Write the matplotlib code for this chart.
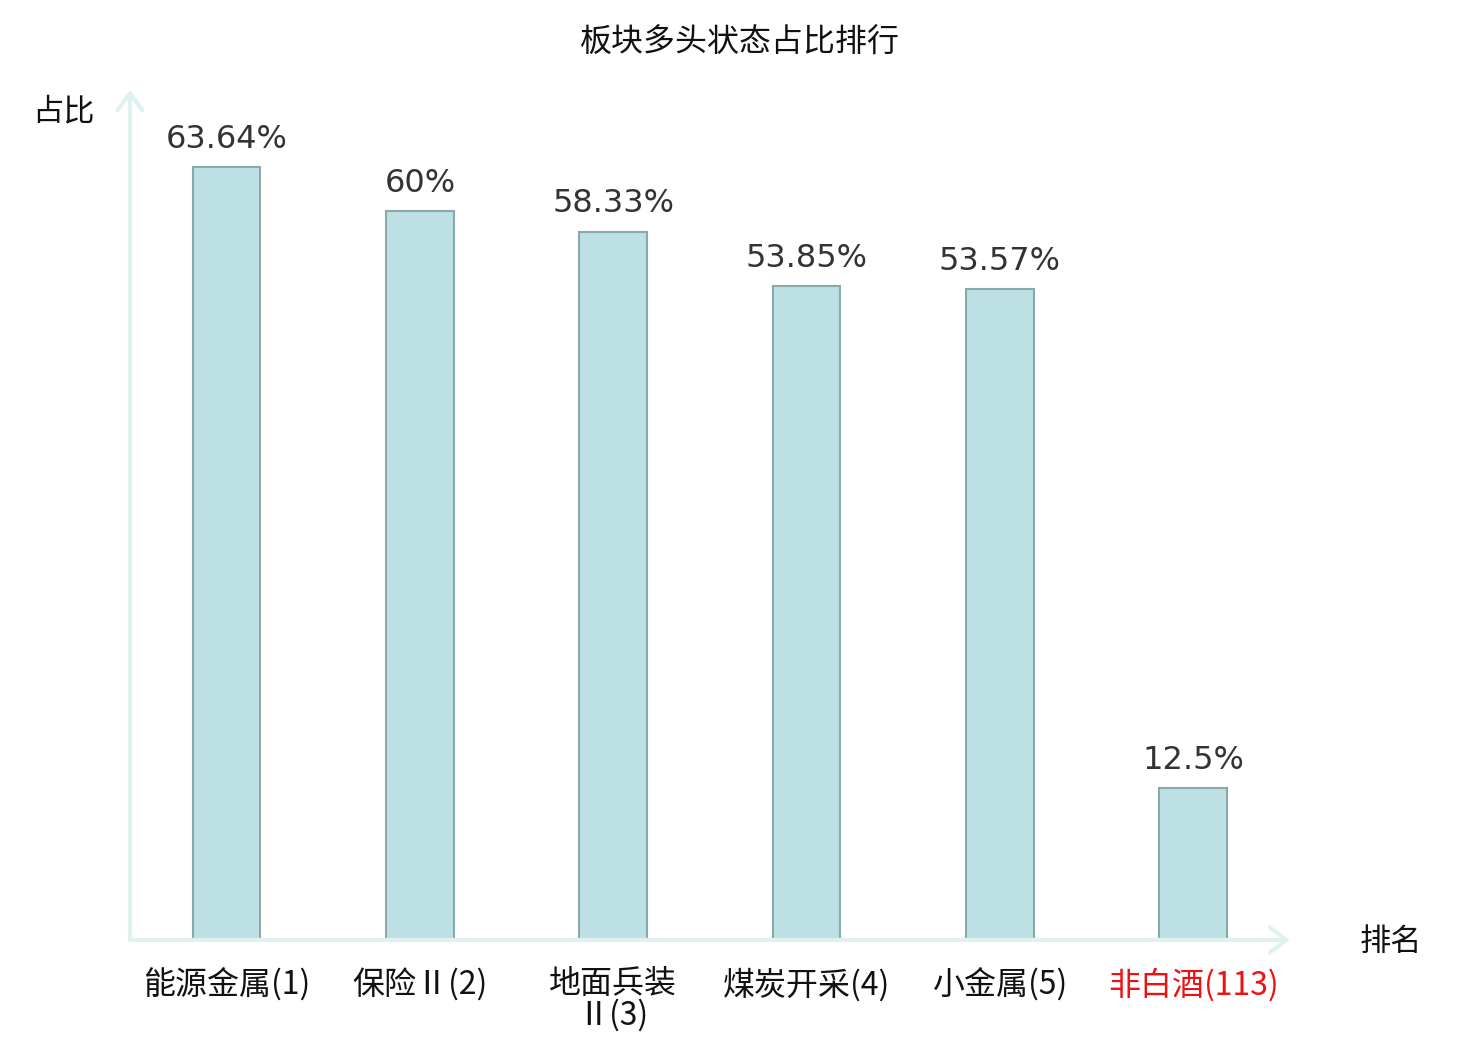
import matplotlib
matplotlib.use('Agg')
import matplotlib.pyplot as plt

plt.rcParams['font.family'] = ['Noto Sans CJK SC', 'DejaVu Sans']

# 数据
categories = ['能源金属(1)', '保险Ⅱ(2)', '地面兵装\nⅡ(3)', '煤炭开采(4)', '小金属(5)', '非白酒(113)']
values = [63.64, 60, 58.33, 53.85, 53.57, 12.5]
value_labels = ['63.64%', '60%', '58.33%', '53.85%', '53.57%', '12.5%']
highlight = [False, False, False, False, False, True]

fig = plt.figure(figsize=(14.8, 10.4), dpi=100)
ax = fig.add_axes([0.0878, 0.0962, 0.7838, 0.8173])

x = list(range(len(categories)))
ax.bar(x, values, width=0.35, color='#bce0e3', edgecolor='#8aa9aa', linewidth=1.5)

for xi, v, lab in zip(x, values, value_labels):
    ax.annotate(lab, (xi, v), textcoords='offset points', xytext=(0, 9),
                ha='center', va='bottom', fontsize=23, color='#333333',
                family=['DejaVu Sans'])

ax.set_xlim(-0.5, 5.5)
ax.set_ylim(0, 70)
for s in ax.spines.values():
    s.set_visible(False)
ax.set_yticks([])
ax.set_xticks(x)
ax.set_xticklabels(categories, fontsize=23, linespacing=0.95)
ax.tick_params(axis='x', length=0, pad=20)
for t, h in zip(ax.get_xticklabels(), highlight):
    t.set_color('#ee1111' if h else '#111111')

# 坐标轴箭头
axis_color = '#dff2ef'
arrow = dict(arrowstyle='->,head_length=0.6,head_width=0.45', color=axis_color,
             lw=3, mutation_scale=20, shrinkA=0, shrinkB=0)
ax.annotate('', xy=(0, 1.0), xytext=(0, 0), xycoords='axes fraction',
            arrowprops=arrow, annotation_clip=False)
ax.annotate('', xy=(1.0, 0), xytext=(0, 0), xycoords='axes fraction',
            arrowprops=arrow, annotation_clip=False)

fig.text(0.043, 0.893, '占比', fontsize=22.5, ha='center', va='center', color='#111111')
fig.text(0.940, 0.094, '排名', fontsize=22.5, ha='center', va='center', color='#111111')
fig.text(0.5, 0.959, '板块多头状态占比排行', fontsize=23, ha='center', va='center',
         color='#111111')

plt.savefig('out.png', dpi=100)
plt.close()
